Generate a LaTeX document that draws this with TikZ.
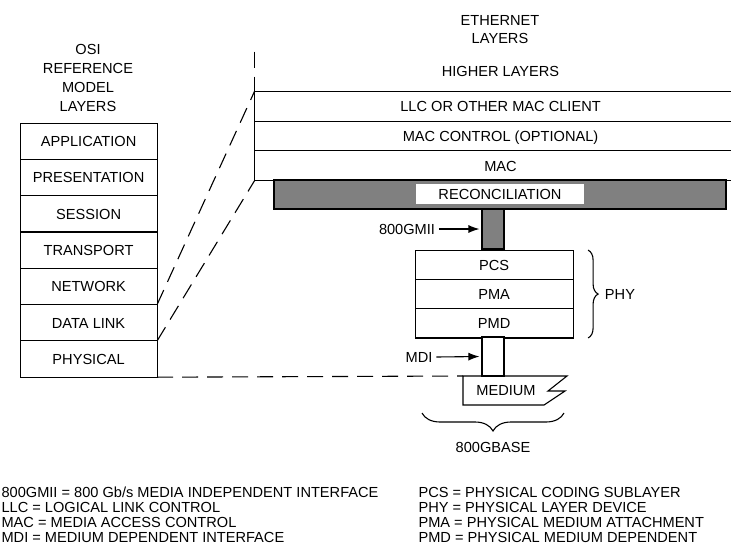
\documentclass[tikz,border=0pt]{standalone}
\usepackage{fontspec}
\setmainfont{Liberation Sans}
\usepackage{tikz}
\usetikzlibrary{matrix,positioning,arrows.meta,decorations.pathreplacing}
\definecolor{recgray}{gray}{0.5}
\tikzset{
osistack/.style={
  matrix of nodes,
  inner sep=0pt,
  row sep=-\pgflinewidth,
  nodes={draw,rectangle,minimum width=137pt,minimum height=36.3pt,
    inner sep=0pt,outer sep=0pt,text height=10.5pt,text depth=0pt,anchor=center}
},
phystack/.style={
  matrix of nodes,
  inner sep=0pt,
  row sep=-\pgflinewidth,
  nodes={draw,rectangle,minimum width=158pt,minimum height=29.3pt,
    inner sep=0pt,outer sep=0pt,text height=10.5pt,text depth=0pt,anchor=center}
},
ethstack/.style={
  matrix of nodes,
  inner sep=0pt,
  row sep=0pt,
  nodes={rectangle,minimum width=492pt,minimum height=29.8pt,
    inner sep=0pt,outer sep=0pt,text height=10.5pt,text depth=0pt,anchor=center}
},
headtext/.style={align=center,inner sep=0pt,font=\fontsize{14.6}{19.3}\selectfont},
keytext/.style={anchor=base west,inner sep=0pt},
dashline/.style={dash pattern=on 16pt off 9pt},
arrowline/.style={-{Latex[length=11pt,width=8pt]},shorten >=2pt},
bracestyle/.style={decorate,decoration={brace,amplitude=#1}},
}

\begin{document}
\begin{tikzpicture}[x=1pt,y=-1pt,line width=1.1pt,font=\fontsize{14.6}{16}\selectfont]
\useasboundingbox (0,0) rectangle (731,546);
% the titles
\node[headtext] (osititle) at (88,78) {OSI\\REFERENCE\\MODEL\\LAYERS};
\node[headtext,font=\fontsize{14.6}{18}\selectfont] (ethtitle) at (500,30) {ETHERNET\\LAYERS};
% the layer stacks
\matrix (osi) [osistack,anchor=north west] at (19,122)
{
APPLICATION \\
PRESENTATION \\
SESSION \\
TRANSPORT \\
NETWORK \\
DATA LINK \\
PHYSICAL \\
};
\matrix (eth) [ethstack,anchor=north west,row 1/.style={nodes={minimum height=39.7pt}}] at (254,51)
{
HIGHER LAYERS \\
LLC OR OTHER MAC CLIENT \\
MAC CONTROL (OPTIONAL) \\
MAC \\
};
% the ethernet rules
\foreach \r in {1,...,4}
{
  \draw (eth-\r-1.south west) -- (eth-\r-1.south east);
}
\draw (eth-2-1.north west) -- (eth-4-1.south west);
\draw[dashline] (eth-1-1.north west) -- (eth-1-1.south west);
% reconciliation and the phy
\node[draw,fill=recgray,minimum width=452pt,minimum height=29pt,inner sep=0pt] (recbar) at (500,194.5) {};
\node[fill=white,minimum width=168pt,minimum height=20pt,inner sep=0pt,text height=10.5pt,text depth=0pt] (recon) at (500,194) {RECONCILIATION};
\node[draw,fill=recgray,minimum width=22pt,minimum height=40pt,inner sep=0pt] (gmii) at (493,229) {};
\matrix (phy) [phystack,anchor=north west] at (414,249)
{
PCS \\
PMA \\
PMD \\
};
\node[draw,fill=white,minimum width=22pt,minimum height=39pt,inner sep=0pt] (mdi) at (493,356.5) {};
% the medium
\coordinate (medtl) at (463,376);
\draw (medtl) -- (567,376) -- (548,391) -- (565,391) -- (544,405) -- (463,405) -- cycle;
\node (medium) at (506,391) {MEDIUM};
% the labels
\node (gmiilabel) at (407,229) {800GMII};
\node (mdilabel) at (419,357) {MDI};
\node[right=28pt of phy-2-1] (phylabel) {PHY};
\node (gbaselabel) at (493,447) {800GBASE};
% the arrows
\draw[arrowline] (gmiilabel.east) -- (gmii.west);
\draw[arrowline] (mdilabel.east) -- (mdi.west);
% the braces
\draw[bracestyle=10pt] ([xshift=15pt]phy-1-1.north east) -- ([xshift=15pt]phy-3-1.south east);
\coordinate (braceR) at (564,413);
\coordinate (braceL) at (422,413);
\draw[bracestyle=18pt] (braceR) -- (braceL);
% the dashed links
\draw[dashline] (osi-5-1.south east) -- (eth-2-1.north west);
\draw[dashline] (osi-6-1.south east) -- (eth-4-1.south west);
\draw[dashline] (osi-7-1.south east) -- (medtl);
% the key
\foreach \txt [count=\i] in {{800GMII = 800 Gb/s MEDIA INDEPENDENT INTERFACE},{LLC = LOGICAL LINK CONTROL},{MAC = MEDIA ACCESS CONTROL},{MDI = MEDIUM DEPENDENT INTERFACE}}
{
  \node[keytext] (keyl-\i) at (1,{497.2+15.2*(\i-1)}) {\txt};
}
\foreach \txt [count=\i] in {{PCS = PHYSICAL CODING SUBLAYER},{PHY = PHYSICAL LAYER DEVICE},{PMA = PHYSICAL MEDIUM ATTACHMENT},{PMD = PHYSICAL MEDIUM DEPENDENT}}
{
  \node[keytext] (keyr-\i) at (418,{497.2+15.2*(\i-1)}) {\txt};
}
\end{tikzpicture}
\end{document}
